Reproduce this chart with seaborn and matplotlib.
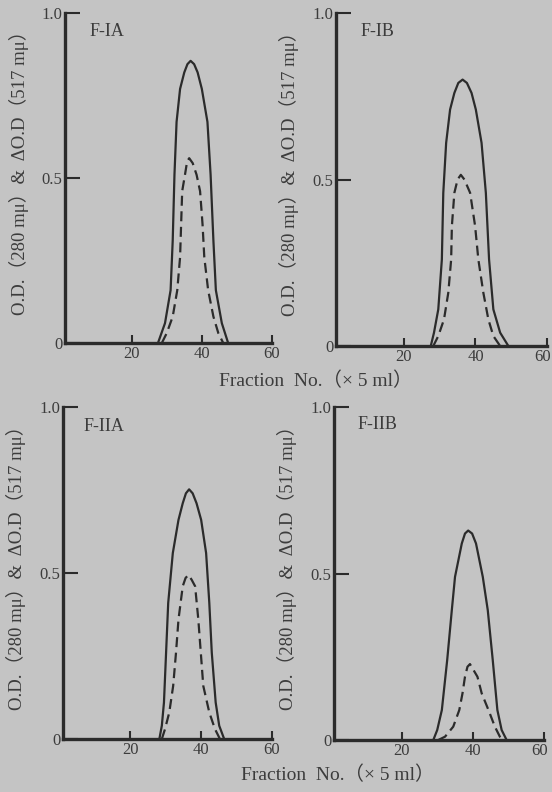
import pandas as pd
import seaborn as sns
import matplotlib.pyplot as plt
import matplotlib.transforms as mtransforms

# Traced elution profiles: fraction number vs. absorbance
# solid = O.D. at 280 mμ, dashed = ΔO.D. at 517 mμ
fig_ia_x = [27.5, 29.5, 31.1, 31.7, 32.2, 32.8, 33.8, 35.0, 35.9, 36.8, 37.8, 38.8,
            40.0, 41.6, 42.5, 43.3, 44.0, 45.7, 47.5]
fig_ia_od280 = [0.0, 0.06, 0.16, 0.31, 0.51, 0.67, 0.77, 0.82, 0.845, 0.855, 0.845,
                0.82, 0.77, 0.67, 0.51, 0.31, 0.16, 0.06, 0.0]
fig_ia_dx = [28.6, 30.0, 31.7, 33.0, 33.8, 34.1, 34.4, 35.2, 35.8, 36.4, 37.4, 38.5,
             39.5, 40.2, 40.7, 41.8, 43.3, 44.7, 46.1]
fig_ia_od517 = [0.0, 0.03, 0.08, 0.16, 0.26, 0.36, 0.46, 0.51, 0.55, 0.56, 0.545,
                0.51, 0.46, 0.36, 0.26, 0.16, 0.08, 0.03, 0.0]

fig_ib_x = [27.5, 28.4, 29.6, 30.6, 31.0, 31.8, 32.9, 34.1, 35.2, 36.4, 37.6, 38.9,
            40.1, 41.7, 42.9, 43.8, 45.0, 46.9, 49.2]
fig_ib_od280 = [0.0, 0.04, 0.11, 0.26, 0.46, 0.61, 0.71, 0.76, 0.79, 0.80, 0.79,
                0.76, 0.71, 0.61, 0.46, 0.26, 0.11, 0.04, 0.0]
fig_ib_dx = [28.2, 29.6, 31.2, 32.4, 33.2, 33.4, 34.1, 35.0, 35.9, 36.9, 38.5, 39.9,
             40.8, 42.2, 43.6, 45.0, 46.9]
fig_ib_od517 = [0.0, 0.03, 0.08, 0.16, 0.26, 0.36, 0.46, 0.50, 0.514, 0.50, 0.46,
                0.36, 0.26, 0.16, 0.08, 0.03, 0.0]

fig_iia_x = [28.2, 28.9, 29.5, 30.1, 30.7, 32.0, 33.6, 34.8, 35.7, 36.6, 37.6, 38.7,
             40.0, 41.4, 42.3, 43.0, 44.1, 45.1, 46.5]
fig_iia_od280 = [0.0, 0.04, 0.11, 0.26, 0.41, 0.56, 0.66, 0.71, 0.74, 0.752, 0.74,
                 0.71, 0.66, 0.56, 0.41, 0.26, 0.11, 0.04, 0.0]
fig_iia_dx = [28.9, 29.8, 31.0, 32.1, 32.9, 33.6, 34.8, 35.6, 36.4, 37.3, 38.3, 39.2,
              39.9, 40.6, 42.3, 43.9, 45.3]
fig_iia_od517 = [0.0, 0.03, 0.08, 0.16, 0.26, 0.36, 0.46, 0.485, 0.494, 0.48, 0.46,
                 0.36, 0.26, 0.16, 0.08, 0.03, 0.0]

fig_iib_x = [28.9, 30.0, 31.3, 32.8, 34.1, 35.0, 36.9, 37.8, 38.7, 39.8, 40.9, 42.8,
             44.2, 45.6, 46.9, 48.1, 49.5]
fig_iib_od280 = [0.0, 0.03, 0.09, 0.24, 0.39, 0.49, 0.59, 0.62, 0.629, 0.62, 0.59,
                 0.49, 0.39, 0.24, 0.09, 0.03, 0.0]
fig_iib_dx = [30.3, 32.2, 34.5, 36.2, 37.1, 37.8, 38.5, 39.2, 40.2, 41.3, 42.5, 44.4,
              46.2, 47.6, 48.6]
fig_iib_od517 = [0.0, 0.01, 0.04, 0.09, 0.14, 0.19, 0.22, 0.228, 0.21, 0.19, 0.14,
                 0.09, 0.04, 0.01, 0.0]

panel_names = ["F-IA", "F-IB", "F-IIA", "F-IIB"]
y_ticks = [0, 0.5, 1.0]
y_tick_labels = ["0", "0.5", "1.0"]
x_ticks = [20, 40, 60]
x_tick_labels = ["20", "40", "60"]
y_label = "O.D.（280 mμ）&  ΔO.D（517 mμ）"
x_label = "Fraction  No.（× 5 ml）"

panels = [
    (fig_ia_x, fig_ia_od280, fig_ia_dx, fig_ia_od517),
    (fig_ib_x, fig_ib_od280, fig_ib_dx, fig_ib_od517),
    (fig_iia_x, fig_iia_od280, fig_iia_dx, fig_iia_od517),
    (fig_iib_x, fig_iib_od280, fig_iib_dx, fig_iib_od517),
]

sns.set_theme(style="ticks")
plt.rcParams["font.family"] = ["Liberation Serif", "Noto Sans CJK JP", "DejaVu Serif"]

paper = "#c4c4c4"
ink = "#2b2b2b"
text_ink = "#3c3c3c"

W, H = 552, 792
fig = plt.figure(figsize=(W / 100, H / 100), dpi=100, facecolor=paper)

# axes boxes in pixels: left, top, right, bottom
boxes = [
    (65, 13, 272, 343),
    (336, 13, 547, 346),
    (63, 407, 272, 739),
    (334, 407, 544, 740),
]
title_pos = [(0.12, 0.945), (0.114, 0.943), (0.096, 0.94), (0.11, 0.946)]

for i, ((l, t, r, b), (sx, sy, dx, dy)) in enumerate(zip(boxes, panels)):
    ax = fig.add_axes([l / W, 1 - b / H, (r - l) / W, (b - t) / H])
    ax.set_facecolor("none")

    solid = pd.DataFrame({"fraction": sx, "od": sy})
    dashed = pd.DataFrame({"fraction": dx, "od": dy})
    sns.lineplot(data=solid, x="fraction", y="od", ax=ax, color=ink, lw=1.6,
                 estimator=None, sort=False, solid_joinstyle="round")
    sns.lineplot(data=dashed, x="fraction", y="od", ax=ax, color=ink, lw=1.6,
                 estimator=None, sort=False, linestyle=(0, (4.5, 2.5)))

    ax.set_xlim(1, 60)
    ax.set_ylim(0, 1.0)

    for side in ("top", "right"):
        ax.spines[side].set_visible(False)
    for side in ("left", "bottom"):
        ax.spines[side].set_linewidth(2.4)
        ax.spines[side].set_color(ink)
        ax.spines[side].set_zorder(5)

    ax.set_xticks(x_ticks)
    ax.set_xticklabels(x_tick_labels)
    ax.set_yticks(y_ticks)
    ax.set_yticklabels(y_tick_labels)
    ax.set_xticks([60], minor=True)
    ax.set_yticks([1.0], minor=True)
    ax.tick_params(axis="x", which="major", direction="in", length=5.5, width=1.5,
                   color=ink, labelsize=12, labelcolor=text_ink, pad=2)
    ax.tick_params(axis="x", which="minor", direction="in", length=14, width=1.5, color=ink)
    ax.tick_params(axis="y", which="major", direction="in", length=10.5, width=1.5,
                   color=ink, labelsize=12, labelcolor=text_ink, pad=2)
    ax.tick_params(axis="y", which="minor", direction="in", length=16, width=1.5, color=ink)

    # the "60" on the right-hand panels sits right at the page edge
    if i in (1, 3):
        last = ax.get_xticklabels()[-1]
        last.set_transform(mtransforms.offset_copy(last.get_transform(), fig=fig,
                                                   x=-4, y=0, units="dots"))

    ax.set_xlabel("")
    ax.set_ylabel(y_label, fontsize=13.5, color=text_ink)
    ax.yaxis.set_label_coords(-0.175, 0.53)

    tx, ty = title_pos[i]
    ax.text(tx, ty, panel_names[i], transform=ax.transAxes, fontsize=13,
            color=text_ink, ha="left", va="center")

fig.text(316 / W, 1 - 381 / H, x_label, fontsize=14, color=text_ink,
         ha="center", va="center")
fig.text(338 / W, 1 - 775 / H, x_label, fontsize=14, color=text_ink,
         ha="center", va="center")

fig.savefig("out.png", dpi=100, facecolor=paper)
